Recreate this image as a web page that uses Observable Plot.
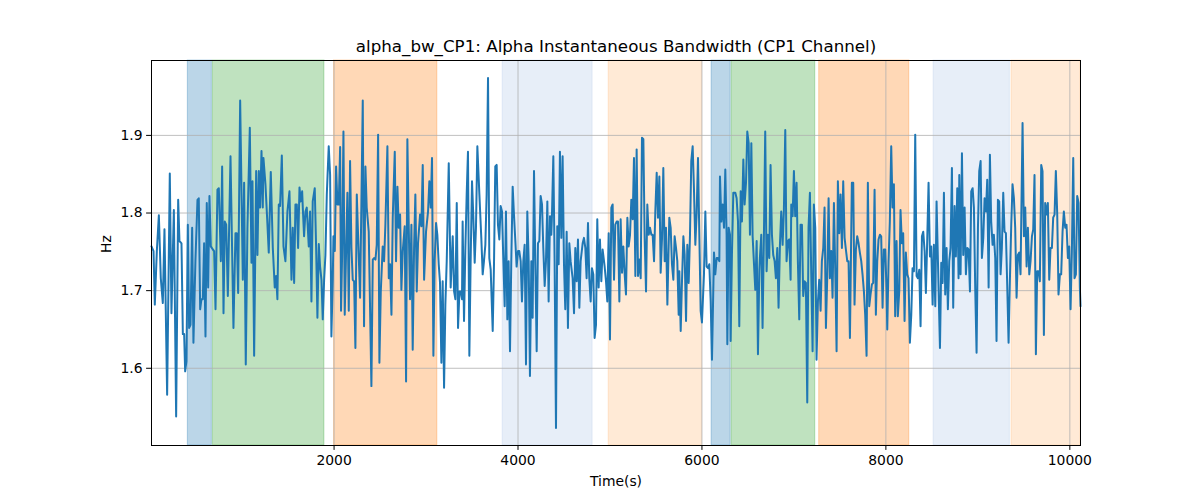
<!DOCTYPE html>
<html>
<head>
<meta charset="utf-8">
<script src="https://cdn.jsdelivr.net/npm/d3@7"></script>
<script src="https://cdn.jsdelivr.net/npm/@observablehq/plot@0.6"></script>
<style>
  html, body { margin: 0; padding: 0; background: #ffffff; }
  #chart { width: 1200px; height: 500px; }
</style>
</head>
<body>
<div id="chart"></div>
<script>
const titleText = "alpha_bw_CP1: Alpha Instantaneous Bandwidth (CP1 Channel)";
const xLabel = "Time(s)";
const yLabel = "Hz";
const xTicks = [2000, 4000, 6000, 8000, 10000];
const yTicks = [1.6, 1.7, 1.8, 1.9];

const spanStart = [410, 682, 2000, 3833, 4986, 6105, 6323, 7275, 8519, 9366];
const spanEnd   = [671, 1895, 3123, 4811, 6000, 6312, 7232, 8254, 9348, 10116];
const spanColor = ["#1f77b4", "#2ca02c", "#ff7f0e", "#aec7e8", "#ffbb78", "#1f77b4", "#2ca02c", "#ff7f0e", "#aec7e8", "#ffbb78"];

const times = [
15,37,51,73,95,116,138,156,185,214,232,258,283,305,319,341,356,370,381,395,410,424,439,457,471,493,515,529,544,558,573,587,602,616,631,645,660,682,696,711,732,747,769,783,798,812,827,845,874,906,928,942,957,979,1008,1022,1040,1058,1084,1102,1113,1131,1153,1167,1182,1196,1211,1225,1232,1254,1272,1290,1312,1334,1355,1370,1384,1399,1413,1432,1450,1471,1493,1515,1537,1551,1566,1580,1595,1609,1624,1638,1653,1660,1674,1689,1703,1725,
1739,1754,1768,1790,1805,1819,1834,1848,1863,1877,1892,1906,1921,1942,1957,1971,1986,1993,2008,2022,2037,2051,2066,2076,2087,2102,2116,2131,2145,2160,2174,2189,2203,2218,2232,2247,2261,2283,2297,2312,2326,2341,2355,2377,2406,2421,2435,2450,2464,2479,2493,2508,2529,2544,2558,2580,2595,2609,2624,2638,2660,2674,2689,2703,2718,2732,2747,2768,2783,2797,2812,2826,2841,2855,2870,2884,2899,2913,2935,2950,2964,2979,3000,3022,3036,3051,3065,3080,3094,3109,3123,3138,3152,3167,3181,3196,3210,3225,3247,3268,3290,3305,3319,3334,3348,3363,
3377,3391,3398,3413,3427,3442,3456,3471,3485,3500,3514,3529,3543,3558,3580,3601,3616,3630,3645,3659,3674,3688,3703,3725,3739,3753,3768,3782,3797,3811,3826,3840,3855,3869,3884,3898,3913,3927,3942,3956,3971,3985,4000,4014,4029,4043,4058,4072,4087,4101,4116,4130,4145,4159,4174,4188,4203,4217,4232,4246,4261,4275,4290,4304,4319,4333,4348,4362,4369,4384,4398,4413,4427,4442,4456,4471,4485,4500,4514,4529,4543,4558,4572,4594,4609,4623,4638,4652,4667,4681,4703,4717,4732,4746,4761,4775,4790,4804,4819,4833,4848,4862,4877,4891,4906,4920,4935,
4942,4957,4971,4986,5000,5015,5029,5044,5058,5073,5087,5102,5116,5131,5145,5160,5174,5189,5203,5218,5232,5247,5261,5276,5290,5305,5319,5334,5348,5363,5377,5392,5406,5421,5435,5450,5464,5479,5493,5508,5522,5537,5551,5566,5580,5595,5609,5624,5645,5660,5674,5689,5703,5718,5732,5747,5754,5769,5783,5798,5812,5827,5841,5856,5870,5884,5899,5913,5928,5942,5957,5971,5986,6000,6022,6037,6051,6066,6080,6095,6109,6131,6145,6160,6174,6189,6196,6211,6225,6240,6254,6268,6276,6290,6305,6312,6326,6341,6363,6377,6392,6406,6421,6435,6450,6464,6479,6493,6508,6522,6537,6551,6566,6580,6595,6609,6624,
6630,6645,6659,6674,6688,6703,6717,6732,6746,6761,6775,6790,6804,6819,6833,6848,6862,6877,6891,6906,6920,6935,6949,6964,6971,6986,7000,7014,7029,7043,7058,7072,7087,7101,7116,7130,7145,7159,7174,7188,7203,7217,7232,7246,7261,7275,7290,7304,7319,7333,7348,7362,7377,7391,7406,7420,7435,7449,7464,7478,7493,7507,7522,7536,7551,7565,7580,7594,7609,7630,7645,7659,7674,7688,7703,7717,7732,7746,7761,7775,7790,7804,7819,7833,7848,7862,7877,7891,7906,7920,7935,7949,7964,7978,7993,8007,8015,8029,8043,8058,8072,8087,8101,8116,8130,8145,8159,8174,8188,8203,8217,8232,8246,8261,
8276,8290,8305,8319,8334,8348,8363,8377,8392,8406,8421,8435,8450,8464,8479,8493,8508,8522,8537,8551,8566,8588,8602,8617,8631,8645,8660,8674,8689,8703,8718,8732,8747,8761,8776,8790,8798,8812,8827,8841,8856,8870,8885,8899,8914,8928,8943,8957,8972,8986,9001,9015,9030,9044,9059,9073,9088,9102,9117,9131,9145,9160,9174,9189,9203,9218,9232,9247,9261,9276,9290,9305,9319,9334,9348,9363,9377,9392,9406,9421,9435,9450,9464,9486,9501,9515,9530,9544,9559,9573,9588,9602,9616,9631,9645,9660,9674,9689,9703,9718,9732,9747,9761,9776,9790,9805,9819,9834,9848,9863,9877,9892,9906,9921,9935,9950,9964,9979,9993,10008,10022,10037,10051,10066,10080,10095,10109,10116
];

const values = [
1.757,1.751,1.682,1.751,1.797,1.716,1.684,1.779,1.566,1.851,1.671,1.804,1.538,1.817,1.764,1.761,1.644,1.644,1.596,1.609,1.785,1.652,1.656,1.781,1.633,1.740,1.817,1.819,1.676,1.689,1.689,1.761,1.641,1.813,1.704,1.822,1.757,1.753,1.751,1.676,1.830,1.832,1.738,1.860,1.671,1.789,1.785,1.693,1.873,1.652,1.774,1.774,1.697,1.945,1.714,1.839,1.605,1.781,1.910,1.736,1.841,1.616,1.854,1.746,1.854,1.807,1.880,1.807,1.871,1.837,1.794,1.749,1.853,1.755,1.704,1.719,1.689,1.811,1.809,1.874,1.757,1.738,1.802,1.828,1.714,1.781,1.710,1.811,1.811,1.755,1.833,1.815,1.828,1.807,1.770,1.802,1.807,1.757,
1.802,1.686,1.815,1.832,1.755,1.665,1.760,1.731,1.714,1.663,1.714,1.746,1.824,1.886,1.849,1.641,1.714,1.770,1.751,1.860,1.811,1.811,1.885,1.674,1.742,1.905,1.669,1.751,1.826,1.674,1.867,1.755,1.714,1.712,1.626,1.824,1.772,1.691,1.811,1.945,1.654,1.860,1.807,1.776,1.577,1.740,1.742,1.740,1.759,1.901,1.607,1.699,1.757,1.738,1.785,1.886,1.716,1.734,1.669,1.794,1.879,1.738,1.834,1.781,1.798,1.701,1.751,1.783,1.583,1.895,1.783,1.689,1.785,1.624,1.755,1.824,1.699,1.761,1.798,1.783,1.862,1.714,1.776,1.802,1.841,1.807,1.871,1.616,1.738,1.787,1.772,1.734,1.710,1.607,1.712,1.575,1.682,1.738,1.864,1.704,1.770,1.699,1.689,1.813,1.652,1.699,
1.699,1.689,1.789,1.661,1.751,1.824,1.879,1.616,1.738,1.841,1.796,1.736,1.781,1.886,1.824,1.768,1.721,1.738,1.759,1.824,1.974,1.742,1.727,1.648,1.734,1.860,1.862,1.785,1.766,1.809,1.802,1.742,1.680,1.802,1.663,1.738,1.622,1.738,1.834,1.798,1.764,1.731,1.751,1.751,1.738,1.686,1.738,1.759,1.605,1.802,1.738,1.590,1.738,1.665,1.854,1.738,1.622,1.761,1.764,1.822,1.811,1.755,1.706,1.738,1.815,1.686,1.796,1.772,1.796,1.873,1.738,1.523,1.783,1.734,1.879,1.768,1.873,1.734,1.676,1.776,1.652,1.761,1.738,1.716,1.671,1.755,1.712,1.766,1.678,1.738,1.761,1.768,1.755,1.716,1.787,1.716,1.686,1.729,1.721,1.639,1.656,1.792,1.704,1.766,1.712,1.753,1.738,
1.731,1.712,1.686,1.774,1.637,1.807,1.811,1.714,1.785,1.789,1.789,1.686,1.792,1.723,1.757,1.721,1.695,1.794,1.757,1.772,1.817,1.792,1.871,1.719,1.882,1.719,1.740,1.716,1.897,1.895,1.768,1.699,1.811,1.772,1.781,1.772,1.772,1.738,1.802,1.852,1.794,1.847,1.723,1.768,1.858,1.738,1.781,1.682,1.794,1.781,1.734,1.714,1.770,1.755,1.738,1.669,1.725,1.648,1.712,1.770,1.746,1.661,1.759,1.710,1.772,1.867,1.886,1.832,1.759,1.798,1.871,1.776,1.674,1.659,1.721,1.802,1.731,1.729,1.734,1.686,1.611,1.749,1.721,1.742,1.742,1.738,1.847,1.789,1.811,1.781,1.856,1.772,1.631,1.781,1.772,1.635,1.746,1.826,1.826,1.819,1.789,1.654,1.828,1.789,1.869,1.811,1.839,1.905,1.890,1.772,1.890,1.770,1.734,1.701,1.764,1.618,1.725,
1.742,1.772,1.652,1.772,1.905,1.725,1.772,1.742,1.862,1.772,1.746,1.738,1.716,1.755,1.678,1.759,1.802,1.759,1.804,1.907,1.738,1.764,1.766,1.714,1.811,1.796,1.854,1.796,1.839,1.738,1.663,1.785,1.785,1.693,1.712,1.710,1.556,1.781,1.826,1.725,1.622,1.811,1.781,1.611,1.686,1.714,1.674,1.738,1.755,1.807,1.652,1.716,1.819,1.716,1.751,1.691,1.813,1.729,1.622,1.841,1.774,1.824,1.755,1.841,1.768,1.753,1.738,1.738,1.639,1.839,1.839,1.682,1.753,1.770,1.761,1.749,1.738,1.721,1.699,1.669,1.616,1.839,1.680,1.695,1.708,1.710,1.830,1.669,1.738,1.766,1.772,1.770,1.678,1.753,1.753,1.701,1.650,1.738,1.789,1.886,1.807,1.837,1.667,1.764,1.667,1.699,1.804,1.761,1.774,1.661,1.749,1.721,1.716,1.633,
1.669,1.729,1.725,1.901,1.719,1.716,1.727,1.654,1.770,1.776,1.751,1.697,1.768,1.839,1.744,1.757,1.682,1.759,1.680,1.815,1.738,1.626,1.736,1.710,1.826,1.695,1.755,1.676,1.738,1.755,1.858,1.678,1.809,1.744,1.832,1.716,1.849,1.721,1.877,1.746,1.807,1.721,1.755,1.753,1.699,1.828,1.832,1.807,1.699,1.620,1.781,1.854,1.867,1.742,1.768,1.819,1.802,1.843,1.704,1.875,1.789,1.759,1.772,1.742,1.635,1.817,1.815,1.721,1.755,1.826,1.776,1.774,1.708,1.633,1.712,1.785,1.837,1.819,1.781,1.691,1.746,1.749,1.721,1.916,1.770,1.807,1.731,1.781,1.721,1.738,1.770,1.779,1.849,1.618,1.725,1.725,1.712,1.862,1.854,1.643,1.813,1.798,1.813,1.714,1.755,1.755,1.794,1.798,1.854,1.798,1.695,1.721,1.721,1.776,1.802,1.781,1.785,1.742,1.757,1.676,1.749,1.871,1.716,1.721,1.822,1.813,1.704,1.680
];

const series = times.map((t, i) => ({t, v: values[i]}));
const spans = spanStart.map((s, i) => ({x1: s, x2: spanEnd[i], color: spanColor[i]}));

const fontFamily = "'DejaVu Sans', sans-serif";

const chart = Plot.plot({
  width: 1200,
  height: 500,
  marginLeft: 151,
  marginRight: 120,
  marginTop: 60,
  marginBottom: 55,
  style: {fontFamily, fontSize: "13.9px", background: "#ffffff", color: "#000000"},
  x: {domain: [15, 10116]},
  y: {domain: [1.5005, 1.9965]},
  marks: [
    Plot.rect(spans, {x1: "x1", x2: "x2", fill: "color", fillOpacity: 0.3, stroke: "color", strokeOpacity: 0.3, strokeWidth: 1}),
    Plot.gridX(xTicks, {stroke: "#b0b0b0", strokeOpacity: 1, strokeWidth: 0.8}),
    Plot.gridY(yTicks, {stroke: "#b0b0b0", strokeOpacity: 1, strokeWidth: 0.8}),
    Plot.line(series, {x: "t", y: "v", stroke: "#1f77b4", strokeWidth: 2}),
    Plot.frame({stroke: "#000000", strokeWidth: 1}),
    Plot.axisX(xTicks, {tickSize: 4.9, tickPadding: 5, tickFormat: d => String(d), label: null, fontSize: 13.9}),
    Plot.axisY(yTicks, {tickSize: 4.9, tickPadding: 4, tickFormat: d3.format(".1f"), label: null, fontSize: 13.9}),
    Plot.text([titleText], {frameAnchor: "top", lineAnchor: "middle", dy: -14, fontSize: 16.7, fill: "#000000"}),
    Plot.text([xLabel], {frameAnchor: "bottom", lineAnchor: "middle", dy: 36, fontSize: 13.9, fill: "#000000"}),
    Plot.text([yLabel], {frameAnchor: "left", lineAnchor: "middle", dx: -45, rotate: -90, fontSize: 13.9, fill: "#000000"})
  ]
});
document.getElementById("chart").appendChild(chart);
</script>
</body>
</html>
